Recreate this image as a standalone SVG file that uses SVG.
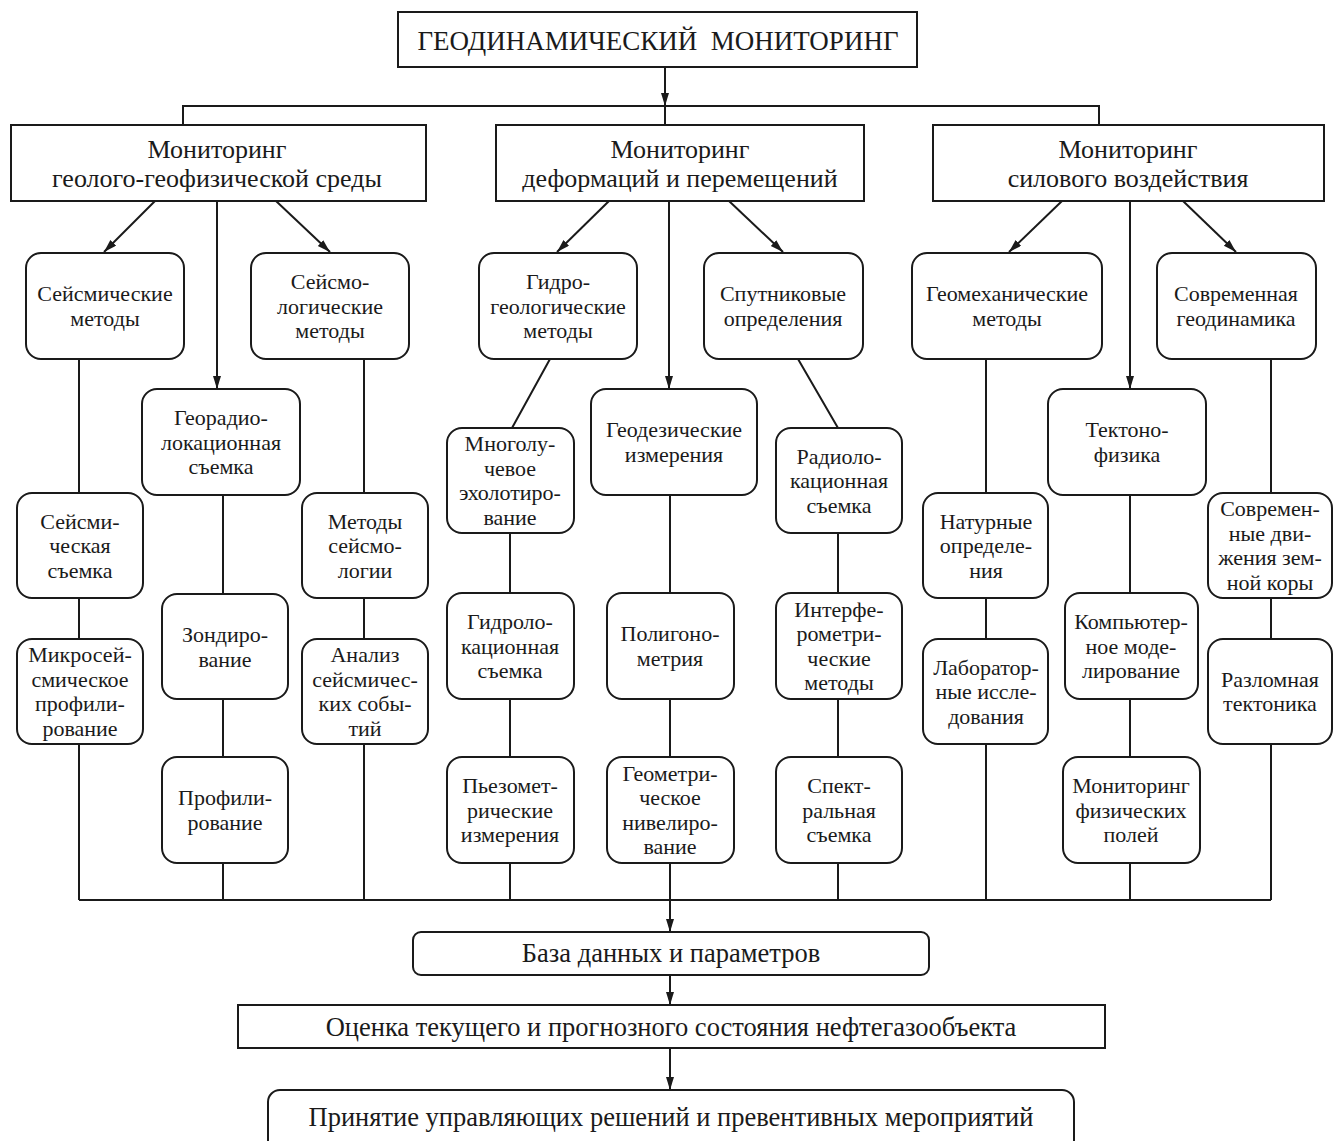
<svg xmlns="http://www.w3.org/2000/svg" width="1333" height="1141" viewBox="0 0 1333 1141">
<defs>
<marker id="ah" markerUnits="userSpaceOnUse" markerWidth="14" markerHeight="9" refX="13" refY="4" orient="auto">
<path d="M0,0 L13,4 L0,8 z" fill="#1a1a1a"/>
</marker>
<style>
.bx{fill:#fff;stroke:#1a1a1a;stroke-width:2}
.ln{fill:none;stroke:#1a1a1a;stroke-width:2}
.ar{fill:none;stroke:#1a1a1a;stroke-width:2;marker-end:url(#ah)}
text{font-family:"Liberation Serif","Times New Roman",serif;fill:#1a1a1a;text-anchor:middle}
.n{font-size:22px}
.h{font-size:26px}
.b{font-size:26.5px}
.tt{font-size:27px;white-space:pre}
</style>
</defs>
<rect width="1333" height="1141" fill="#fff"/>

<g id="connectors">
<path class="ar" d="M665,67 V106"/>
<path class="ln" d="M183,125 V106 H1099 V125 M665,106 V125"/>
<path class="ar" d="M155,201 L104,252"/>
<path class="ar" d="M276,201 L330,252"/>
<path class="ar" d="M217,201 V389"/>
<path class="ar" d="M609,201 L557,252"/>
<path class="ar" d="M729,201 L783,252"/>
<path class="ar" d="M669,201 V389"/>
<path class="ar" d="M1062,201 L1009,252"/>
<path class="ar" d="M1183,201 L1236,252"/>
<path class="ar" d="M1130,201 V389"/>
<path class="ln" d="M79,359 V493 M79,598 V639 M79,744 V900"/>
<path class="ln" d="M364,359 V493 M364,598 V639 M364,744 V900"/>
<path class="ln" d="M223,495 V594 M223,699 V757 M223,863 V900"/>
<path class="ln" d="M550,359 L512,428 M510,533 V593 M510,699 V757 M510,863 V900"/>
<path class="ln" d="M670,495 V593 M670,699 V757"/>
<path class="ln" d="M798,359 L838,428 M838,533 V593 M838,699 V757 M838,863 V900"/>
<path class="ln" d="M986,359 V493 M986,598 V639 M986,744 V900"/>
<path class="ln" d="M1130,495 V593 M1130,699 V757 M1130,863 V900"/>
<path class="ln" d="M1271,359 V493 M1271,598 V639 M1271,744 V900"/>
<path class="ln" d="M79,900 H1271"/>
<path class="ar" d="M670,863 V932"/>
<path class="ar" d="M670,975 V1005"/>
<path class="ar" d="M670,1048 V1090"/>
</g>

<g id="n-title"><rect class="bx" x="398" y="12" width="519" height="55"/><text class="tt" x="658" y="50" xml:space="preserve">ГЕОДИНАМИЧЕСКИЙ  МОНИТОРИНГ</text></g>

<g id="n-geo"><rect class="bx" x="11" y="125" width="415" height="76"/><text class="h" x="217" y="158">Мониторинг</text><text class="h" x="217" y="187">геолого-геофизической среды</text></g>
<g id="n-def"><rect class="bx" x="496" y="125" width="368" height="76"/><text class="h" x="680" y="158">Мониторинг</text><text class="h" x="680" y="187">деформаций и перемещений</text></g>
<g id="n-sil"><rect class="bx" x="933" y="125" width="391" height="76"/><text class="h" x="1128" y="158">Мониторинг</text><text class="h" x="1128" y="187">силового воздействия</text></g>

<g id="n-seism"><rect class="bx" x="26" y="253" width="158" height="106" rx="15"/><text class="n" x="105" y="301">Сейсмические</text><text class="n" x="105" y="326">методы</text></g>
<g id="n-seismolog"><rect class="bx" x="251" y="253" width="158" height="106" rx="15"/><text class="n" x="330" y="289">Сейсмо-</text><text class="n" x="330" y="313.5">логические</text><text class="n" x="330" y="338">методы</text></g>
<g id="n-georadio"><rect class="bx" x="142" y="389" width="158" height="106" rx="15"/><text class="n" x="221" y="425">Георадио-</text><text class="n" x="221" y="449.5">локационная</text><text class="n" x="221" y="474">съемка</text></g>
<g id="n-seismsurvey"><rect class="bx" x="17" y="493" width="126" height="105" rx="15"/><text class="n" x="80" y="528.5">Сейсми-</text><text class="n" x="80" y="553">ческая</text><text class="n" x="80" y="577.5">съемка</text></g>
<g id="n-microseism"><rect class="bx" x="17" y="639" width="126" height="105" rx="15"/><text class="n" x="80" y="662">Микросей-</text><text class="n" x="80" y="687">смическое</text><text class="n" x="80" y="711">профили-</text><text class="n" x="80" y="736">рование</text></g>
<g id="n-zond"><rect class="bx" x="162" y="594" width="126" height="105" rx="15"/><text class="n" x="225" y="642">Зондиро-</text><text class="n" x="225" y="666.5">вание</text></g>
<g id="n-profil"><rect class="bx" x="162" y="757" width="126" height="106" rx="15"/><text class="n" x="225" y="805">Профили-</text><text class="n" x="225" y="830">рование</text></g>
<g id="n-metseism"><rect class="bx" x="302" y="493" width="126" height="105" rx="15"/><text class="n" x="365" y="528.5">Методы</text><text class="n" x="365" y="553">сейсмо-</text><text class="n" x="365" y="577.5">логии</text></g>
<g id="n-analiz"><rect class="bx" x="302" y="639" width="126" height="105" rx="15"/><text class="n" x="365" y="662">Анализ</text><text class="n" x="365" y="687">сейсмичес-</text><text class="n" x="365" y="711">ких собы-</text><text class="n" x="365" y="736">тий</text></g>

<g id="n-hydrogeo"><rect class="bx" x="479" y="253" width="158" height="106" rx="15"/><text class="n" x="558" y="289">Гидро-</text><text class="n" x="558" y="313.5">геологические</text><text class="n" x="558" y="338">методы</text></g>
<g id="n-multibeam"><rect class="bx" x="447" y="428" width="127" height="105" rx="15"/><text class="n" x="510" y="451">Многолу-</text><text class="n" x="510" y="476">чевое</text><text class="n" x="510" y="500">эхолотиро-</text><text class="n" x="510" y="525">вание</text></g>
<g id="n-hydroloc"><rect class="bx" x="447" y="593" width="127" height="106" rx="15"/><text class="n" x="510" y="629">Гидроло-</text><text class="n" x="510" y="653.5">кационная</text><text class="n" x="510" y="678">съемка</text></g>
<g id="n-piezo"><rect class="bx" x="447" y="757" width="127" height="106" rx="15"/><text class="n" x="510" y="793">Пьезомет-</text><text class="n" x="510" y="817.5">рические</text><text class="n" x="510" y="842">измерения</text></g>
<g id="n-geodez"><rect class="bx" x="591" y="389" width="166" height="106" rx="15"/><text class="n" x="674" y="437">Геодезические</text><text class="n" x="674" y="462">измерения</text></g>
<g id="n-poligon"><rect class="bx" x="607" y="593" width="127" height="106" rx="15"/><text class="n" x="670" y="641">Полигоно-</text><text class="n" x="670" y="666">метрия</text></g>
<g id="n-nivel"><rect class="bx" x="607" y="757" width="127" height="106" rx="15"/><text class="n" x="670" y="781">Геометри-</text><text class="n" x="670" y="805">ческое</text><text class="n" x="670" y="830">нивелиро-</text><text class="n" x="670" y="854">вание</text></g>
<g id="n-sputnik"><rect class="bx" x="704" y="253" width="159" height="106" rx="15"/><text class="n" x="783" y="301">Спутниковые</text><text class="n" x="783" y="326">определения</text></g>
<g id="n-radioloc"><rect class="bx" x="776" y="428" width="126" height="105" rx="15"/><text class="n" x="839" y="463.5">Радиоло-</text><text class="n" x="839" y="488">кационная</text><text class="n" x="839" y="512.5">съемка</text></g>
<g id="n-interf"><rect class="bx" x="776" y="593" width="126" height="106" rx="15"/><text class="n" x="839" y="617">Интерфе-</text><text class="n" x="839" y="641">рометри-</text><text class="n" x="839" y="666">ческие</text><text class="n" x="839" y="690">методы</text></g>
<g id="n-spectr"><rect class="bx" x="776" y="757" width="126" height="106" rx="15"/><text class="n" x="839" y="793">Спект-</text><text class="n" x="839" y="817.5">ральная</text><text class="n" x="839" y="842">съемка</text></g>

<g id="n-geomech"><rect class="bx" x="912" y="253" width="190" height="106" rx="15"/><text class="n" x="1007" y="301">Геомеханические</text><text class="n" x="1007" y="326">методы</text></g>
<g id="n-natur"><rect class="bx" x="923" y="493" width="125" height="105" rx="15"/><text class="n" x="986" y="528.5">Натурные</text><text class="n" x="986" y="553">определе-</text><text class="n" x="986" y="577.5">ния</text></g>
<g id="n-labor"><rect class="bx" x="923" y="639" width="125" height="105" rx="15"/><text class="n" x="986" y="674.5">Лаборатор-</text><text class="n" x="986" y="699">ные иссле-</text><text class="n" x="986" y="723.5">дования</text></g>
<g id="n-tekton"><rect class="bx" x="1048" y="389" width="158" height="106" rx="15"/><text class="n" x="1127" y="437">Тектоно-</text><text class="n" x="1127" y="462">физика</text></g>
<g id="n-komp"><rect class="bx" x="1065" y="593" width="133" height="106" rx="15"/><text class="n" x="1131" y="629">Компьютер-</text><text class="n" x="1131" y="653.5">ное моде-</text><text class="n" x="1131" y="678">лирование</text></g>
<g id="n-physfield"><rect class="bx" x="1063" y="757" width="137" height="106" rx="15"/><text class="n" x="1131" y="793">Мониторинг</text><text class="n" x="1131" y="817.5">физических</text><text class="n" x="1131" y="842">полей</text></g>
<g id="n-sovrgeo"><rect class="bx" x="1157" y="253" width="159" height="106" rx="15"/><text class="n" x="1236" y="301">Современная</text><text class="n" x="1236" y="326">геодинамика</text></g>
<g id="n-sovrdv"><rect class="bx" x="1208" y="493" width="124" height="105" rx="15"/><text class="n" x="1270" y="516">Современ-</text><text class="n" x="1270" y="541">ные дви-</text><text class="n" x="1270" y="565">жения зем-</text><text class="n" x="1270" y="590">ной коры</text></g>
<g id="n-razlom"><rect class="bx" x="1208" y="639" width="124" height="105" rx="15"/><text class="n" x="1270" y="687">Разломная</text><text class="n" x="1270" y="711">тектоника</text></g>

<g id="n-baza"><rect class="bx" x="413" y="932" width="516" height="43" rx="8"/><text class="b" x="671" y="962">База данных и параметров</text></g>
<g id="n-ocenka"><rect class="bx" x="238" y="1005" width="867" height="43"/><text class="b" x="671" y="1036">Оценка текущего и прогнозного состояния нефтегазообъекта</text></g>
<g id="n-prinyat"><rect class="bx" x="268" y="1090" width="806" height="70" rx="12"/><text class="b" x="671" y="1126">Принятие управляющих решений и превентивных мероприятий</text></g>
</svg>
